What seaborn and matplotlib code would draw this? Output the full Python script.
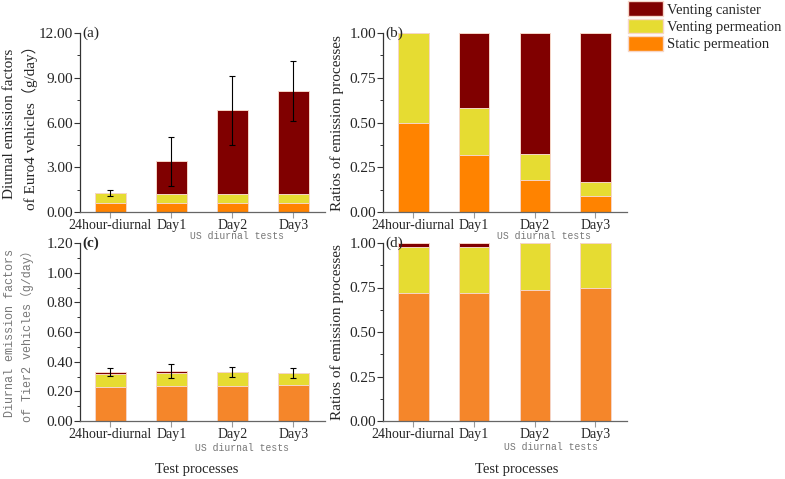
import numpy as np
import pandas as pd
import seaborn as sns
import matplotlib.pyplot as plt
from matplotlib.patches import Patch
from matplotlib.ticker import MultipleLocator, AutoMinorLocator

# categories
tests = ['24hour-diurnal', 'Day1', 'Day2', 'Day3']

# (a) Euro4 diurnal emission factors (g/day)
euro4_static = [0.63, 0.63, 0.63, 0.63]
euro4_vperm = [0.64, 0.60, 0.60, 0.60]
euro4_canister = [0.0, 2.17, 5.59, 6.86]
euro4_err = [0.18, 1.63, 2.33, 2.00]

# (b) Euro4 ratios
euro4_static_r = [0.50, 0.32, 0.18, 0.09]
euro4_vperm_r = [0.50, 0.26, 0.145, 0.08]
euro4_canister_r = [0.0, 0.42, 0.675, 0.83]

# (c) Tier2 diurnal emission factors (g/day)
tier2_static = [0.231, 0.238, 0.238, 0.243]
tier2_vperm = [0.086, 0.088, 0.092, 0.081]
tier2_canister = [0.011, 0.011, 0.0, 0.0]
tier2_err = [0.027, 0.044, 0.034, 0.036]

# (d) Tier2 ratios
tier2_static_r = [0.72, 0.717, 0.736, 0.749]
tier2_vperm_r = [0.26, 0.261, 0.264, 0.251]
tier2_canister_r = [0.02, 0.022, 0.0, 0.0]

RED = '#800000'
YELLOW = '#E6DC32'
ORANGE = '#FF8300'
ORANGE2 = '#F5862A'
EDGE = '#f6d6c8'

sns.set_style('ticks')
plt.rcParams['font.family'] = ['Liberation Serif', 'Noto Sans CJK SC']
plt.rcParams['axes.linewidth'] = 0.9

W, H = 785, 479
fig = plt.figure(figsize=(W / 100, H / 100), dpi=100)


def px_axes(l, t, r, b):
    return fig.add_axes([l / W, 1 - b / H, (r - l) / W, (b - t) / H])


ax_a = px_axes(80, 33, 325, 212)
ax_b = px_axes(383, 33, 627, 212)
ax_c = px_axes(80, 243, 325, 421)
ax_d = px_axes(383, 243, 627, 421)


def stacked(ax, static, vperm, canister, orange, err=None):
    df = pd.DataFrame({'test': tests,
                       'static': static,
                       'vperm': vperm,
                       'canister': canister})
    df['mid'] = df['static'] + df['vperm']
    df['total'] = df['mid'] + df['canister']
    kw = dict(x='test', width=0.5, saturation=1, edgecolor=EDGE,
              linewidth=0.7, ax=ax, order=tests)
    sns.barplot(data=df, y='total', color=RED, **kw)
    sns.barplot(data=df, y='mid', color=YELLOW, **kw)
    sns.barplot(data=df, y='static', color=orange, **kw)
    if err is not None:
        ax.errorbar(np.arange(len(tests)), df['total'], yerr=err, fmt='none',
                    ecolor='black', elinewidth=0.8, capsize=2, capthick=0.8)


stacked(ax_a, euro4_static, euro4_vperm, euro4_canister, ORANGE, euro4_err)
stacked(ax_b, euro4_static_r, euro4_vperm_r, euro4_canister_r, ORANGE)
stacked(ax_c, tier2_static, tier2_vperm, tier2_canister, ORANGE2, tier2_err)
stacked(ax_d, tier2_static_r, tier2_vperm_r, tier2_canister_r, ORANGE2)

ylims = [(12, 3), (1, 0.25), (1.2, 0.2), (1, 0.25)]
for ax, (top, step) in zip([ax_a, ax_b, ax_c, ax_d], ylims):
    ax.set_xlim(-0.5, 3.52)
    ax.set_ylim(0, top)
    ax.yaxis.set_major_locator(MultipleLocator(step))
    ax.yaxis.set_minor_locator(AutoMinorLocator(2))
    ax.yaxis.set_major_formatter(plt.FormatStrFormatter('%.2f'))
    ax.set_xlabel('')
    ax.set_ylabel('')
    sns.despine(ax=ax)
    ax.spines['bottom'].set_color('#666666')
    ax.spines['left'].set_color('#333333')
    ax.tick_params(axis='y', which='major', length=4, width=0.8,
                   labelsize=11, pad=1, color='#333333')
    ax.tick_params(axis='y', which='minor', length=2, width=0.7, color='#333333')
    ax.tick_params(axis='x', length=4, width=0.8, labelsize=10, pad=1,
                   color='#999999')

# panel letters
ax_a.text(0.01, 1.0, '(a)', transform=ax_a.transAxes, fontsize=11, va='center')
ax_b.text(0.01, 1.0, '(b)', transform=ax_b.transAxes, fontsize=11, va='center')
ax_c.text(0.01, 1.0, '(c)', transform=ax_c.transAxes, fontsize=11,
          va='center', fontweight='bold')
ax_d.text(0.01, 1.0, '(d)', transform=ax_d.transAxes, fontsize=11, va='center')

# y labels
fig.text(10 / W, 1 - 124 / H, 'Diurnal emission factors', rotation=90,
         ha='center', va='center', fontsize=11)
fig.text(30 / W, 1 - 124 / H, 'of Euro4 vehicles（g/day）', rotation=90,
         ha='center', va='center', fontsize=11)
mono = ['Liberation Mono', 'Noto Sans CJK SC']
fig.text(10 / W, 1 - 333 / H, 'Diurnal emission factors', rotation=90,
         ha='center', va='center', fontsize=8.5, family=mono, color='#777777')
fig.text(27 / W, 1 - 333 / H, 'of Tier2 vehicles（g/day）', rotation=90,
         ha='center', va='center', fontsize=8.5, family=mono, color='#777777')
fig.text(337 / W, 1 - 123 / H, 'Ratios of emission processes', rotation=90,
         ha='center', va='center', fontsize=11)
fig.text(337 / W, 1 - 332 / H, 'Ratios of emission processes', rotation=90,
         ha='center', va='center', fontsize=11)

# secondary x labels
for x, y in [(237, 236), (544, 236), (242, 448), (551, 447)]:
    fig.text(x / W, 1 - y / H, 'US diurnal tests', ha='center', va='center',
             fontsize=7, family=mono, color='#777777')
fig.text(197 / W, 1 - 469 / H, 'Test processes', ha='center', va='center',
         fontsize=10.5)
fig.text(517 / W, 1 - 470 / H, 'Test processes', ha='center', va='center',
         fontsize=10.5)

# legend
handles = [Patch(facecolor=RED, edgecolor=EDGE, label='Venting canister'),
           Patch(facecolor=YELLOW, edgecolor=EDGE, label='Venting permeation'),
           Patch(facecolor=ORANGE, edgecolor=EDGE, label='Static permeation')]
fig.legend(handles=handles, loc='upper left', bbox_to_anchor=(627 / W, 1.0),
           frameon=False, fontsize=10.5, borderpad=0.1, handlelength=2.4,
           handleheight=1.15, labelspacing=0.15, handletextpad=0.25,
           borderaxespad=0)

fig.savefig('out.png', dpi=100)
